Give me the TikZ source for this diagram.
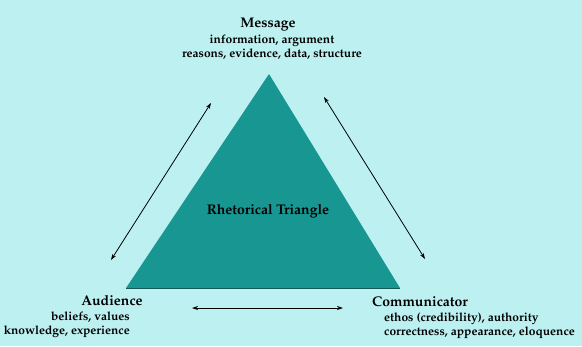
\documentclass[tikz,border=0pt]{standalone}
\usepackage[T1]{fontenc}
\renewcommand\rmdefault{ppl}
\usetikzlibrary{arrows.meta}
\definecolor{bgc}{RGB}{189,241,241}
\definecolor{tric}{RGB}{24,150,146}
\definecolor{tribot}{RGB}{20,90,88}
\tikzset{
  title/.style={font=\fontsize{14}{16}\selectfont\bfseries, inner sep=0pt, anchor=base},
  sub/.style={font=\fontsize{12}{13.5}\selectfont\bfseries, inner sep=0pt},
  dbl/.style={{Stealth[length=6pt,width=4pt]}-{Stealth[length=6pt,width=4pt]}, line width=0.8pt, black},
}
\begin{document}
\begin{tikzpicture}[x=1pt,y=-1pt]
\fill[bgc] (0,0) rectangle (582,346);
\useasboundingbox (0,0) rectangle (582,346);
\coordinate (A) at (269,74);
\coordinate (B) at (126,288);
\coordinate (C) at (400,288);
\fill[tric] (A) -- (B) -- (C) -- cycle;
\draw[tribot, line width=0.6pt] (B) -- (C);
\node[title] (rt) at (268,214) {Rhetorical Triangle};
% Message
\node[title] (msg) at (268,27) {Message};
\node[sub, align=center, anchor=base] (msgsub) at (272,57) {information, argument\\reasons, evidence, data, structure};
% Audience
\node[title] (aud) at (112,305) {Audience};
\node[sub, align=right, anchor=base east] (audsub) at (130,334) {beliefs, values\\knowledge, experience};
% Communicator
\node[title, anchor=base west] (com) at (372,306) {Communicator};
\node[sub, align=left, anchor=base west] (comsub) at (384,335) {ethos (credibility), authority\\correctness, appearance, eloquence};
% arrows
\coordinate (l1) at (211,103);
\coordinate (l2) at (111,260);
\coordinate (r1) at (324,97);
\coordinate (r2) at (425,259);
\coordinate (b1) at (192,308);
\coordinate (b2) at (343,308);
\draw[dbl] (l1) -- (l2);
\draw[dbl] (r1) -- (r2);
\draw[dbl] (b1) -- (b2);
\end{tikzpicture}
\end{document}
